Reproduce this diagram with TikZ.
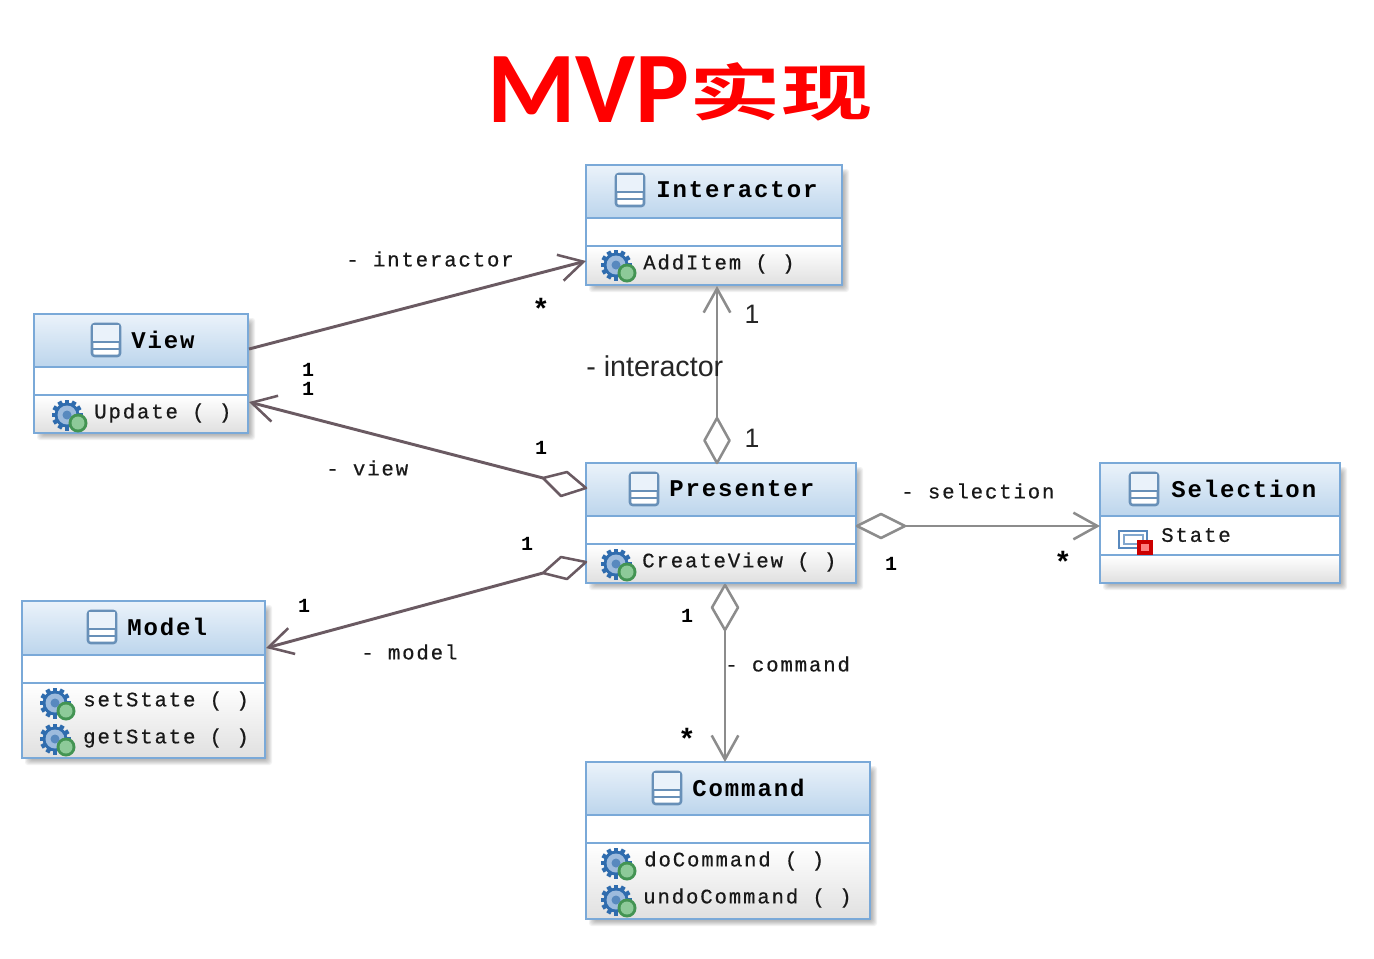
\documentclass[tikz,border=0pt]{standalone}
\usepackage{fontspec}
\usetikzlibrary{arrows.meta}
\newfontfamily\umlfont[LetterSpace=9,FakeBold=0.5]{Liberation Mono}
\newfontfamily\headfont[LetterSpace=8]{Liberation Mono Bold}
\newfontfamily\multfont{Liberation Mono Bold}
\newfontfamily\titlefont{Carlito Bold}
\newfontfamily\cjkfont[FakeStretch=1.49]{Noto Sans CJK SC Bold}
\newfontfamily\sansfontb{Liberation Sans}
\definecolor{umlblue}{HTML}{7AA9D8}
\definecolor{headtop}{HTML}{EAF2FA}
\definecolor{headbot}{HTML}{BCD5EC}
\definecolor{darkline}{HTML}{6A5A62}
\definecolor{grayline}{HTML}{8C8C8C}
\definecolor{gearblue}{HTML}{2F6CAE}
\definecolor{gearin}{HTML}{9DBBDD}
\definecolor{geargreen}{HTML}{4FAE62}
\tikzset{
  classbox/.style={draw=umlblue,line width=2.2pt,fill=white,inner sep=0pt,outer sep=0pt},
  divider/.style={draw=umlblue,line width=1.8pt},
  headtext/.style={font=\headfont\fontsize{18}{18}\selectfont,text=black,inner sep=0pt},
  membertext/.style={font=\umlfont\fontsize{15.5}{16}\selectfont,text=black!90,inner sep=0pt,anchor=west},
  roletext/.style={font=\umlfont\fontsize{15.5}{16}\selectfont,text=black!90,inner sep=0pt},
  multtext/.style={font=\multfont\fontsize{15}{15}\selectfont,text=black,inner sep=0pt},
  startext/.style={font=\multfont\fontsize{22}{22}\selectfont,text=black,inner sep=0pt},
  bigtext/.style={font=\sansfontb\fontsize{20}{20}\selectfont,text=black!85,inner sep=0pt},
  darkconn/.style={draw=darkline,line width=2.2pt},
  grayconn/.style={draw=grayline,line width=2.2pt},
  opentip/.style={-{Straight Barb[length=18pt,width=20pt,line width=1.9pt]}},
  diam/.style={draw=#1,fill=white,line width=1.9pt,line join=round},
}
\newcommand{\umlclass}[7]{%
  \foreach \s in {0,1,2,3,4,5}
    \fill[black,opacity=0.05,rounded corners=2pt] (#2+3+\s,#3+4+\s) rectangle (#4+7-\s,#5+7-\s);
  \node[classbox,minimum width={(#4-#2)*0.75pt},minimum height={(#5-#3)*0.75pt},anchor=north west] (#1) at (#2,#3) {};
  \fill[top color=headtop,bottom color=headbot] (#2+1,#3+1) rectangle (#4-1,#6);
  \fill[top color=white,middle color=white,bottom color=black!12] (#2+1,#7+1) rectangle (#4-1,#5-1);
  \draw[divider] (#2,#6) -- (#4,#6);
  \draw[divider] (#2,#7) -- (#4,#7);
  \draw[umlblue,line width=2.2pt] (#2,#3) rectangle (#4,#5);
}
\newcommand{\classicon}[2]{%
  \begin{scope}[shift={(#1,#2)}]
    \draw[umlblue!85!black,line width=1.9pt,rounded corners=2pt,fill=white] (-14,-16) rectangle (14,16);
    \fill[headtop] (-13,-15) rectangle (13,1);
    \draw[umlblue!85!black,line width=1.5pt] (-14,2) -- (14,2) (-14,9) -- (14,9);
  \end{scope}}
\newcommand{\gearicon}[2]{%
  \begin{scope}[shift={(#1+1,#2+1)}]
    \foreach \a in {0,30,...,150}
      \fill[gearblue,rotate=\a] (-2.2,-15.5) rectangle (2.2,15.5);
    \fill[gearblue] (0,0) circle (12.5);
    \fill[gearin] (0,0) circle (9.5);
    \fill[gearblue!80] (0,0) circle (4.5);
    \fill[geargreen!85!black] (11,8) circle (9.5);
    \fill[geargreen!65!white] (11,8) circle (6.5);
  \end{scope}}
\begin{document}
\begin{tikzpicture}[x=0.75pt,y=-0.75pt]
\useasboundingbox (0,0) rectangle (1374,958);
\fill[white] (0,0) rectangle (1374,958);
% title
\node[inner sep=0pt,anchor=base west,text=red] (title) at (487,122)
  {\titlefont\fontsize{76}{76}\selectfont MVP\raisebox{5pt}{\cjkfont\fontsize{46}{46}\selectfont 实现}};
% classes
\umlclass{interactor}{586}{165}{842}{285}{218}{246}
\umlclass{viewc}{34}{314}{248}{433}{367}{395}
\umlclass{presenter}{586}{463}{856}{583}{516}{544}
\umlclass{selectionc}{1100}{463}{1340}{583}{516}{555}
\umlclass{modelc}{22}{601}{265}{758}{655}{683}
\umlclass{commandc}{586}{762}{870}{919}{815}{843}
% class icons and names
\classicon{630}{190}\node[headtext,anchor=west] (t1) at (656,190) {Interactor};
\classicon{106}{340}\node[headtext,anchor=west] (t2) at (131,340) {View};
\classicon{644}{489}\node[headtext,anchor=west] (t3) at (669,489) {Presenter};
\classicon{1144}{489}\node[headtext,anchor=west] (t4) at (1171,489) {Selection};
\classicon{102}{627}\node[headtext,anchor=west] (t5) at (127,627) {Model};
\classicon{667}{788}\node[headtext,anchor=west] (t6) at (692,788) {Command};
% members
\gearicon{615}{264}\node[membertext] (m1) at (643,264) {AddItem ( )};
\gearicon{66}{414}\node[membertext] (m2) at (94,413) {Update ( )};
\gearicon{615}{563}\node[membertext] (m3) at (642,562) {CreateView ( )};
\gearicon{54}{702}\node[membertext] (m4) at (83,701) {setState ( )};
\gearicon{54}{738}\node[membertext] (m5) at (83,738) {getState ( )};
\gearicon{615}{862}\node[membertext] (m6) at (644,861) {doCommand ( )};
\gearicon{615}{899}\node[membertext] (m7) at (643,898) {undoCommand ( )};
% field icon
\begin{scope}[shift={(1134,540)}]
  \draw[gearblue!80,line width=1.6pt,fill=white] (-15,-9) rectangle (13,8);
  \draw[gearblue!60,line width=1.2pt] (-10,-5) rectangle (9,4);
  \fill[red!80!black] (3,0) rectangle (19,15);
  \fill[red!50] (7,4) rectangle (15,11);
\end{scope}
\node[membertext] (m8) at (1161,535) {State};
% coordinates
\coordinate (vi) at (249,349);
\coordinate (iv) at (586,261);
\coordinate (ip) at (717,463);
\coordinate (pv) at (586,488);
\coordinate (pvl) at (543,478);
\coordinate (vp) at (249,402);
\coordinate (pm) at (586,562);
\coordinate (pml) at (543,573);
\coordinate (mp) at (266,648);
\coordinate (ps) at (857,526);
\coordinate (sp) at (1100,526);
\coordinate (pc) at (725,585);
\coordinate (cp) at (725,762);
\coordinate (pi) at (717,286);
% connectors
\draw[darkconn,opentip] (vi) -- (iv);
\draw[grayconn,opentip] (ip) -- (pi);
\draw[darkconn,opentip] (pvl) -- (vp);
\draw[darkconn,opentip] (pml) -- (mp);
\draw[grayconn,opentip] (ps) -- (sp);
\draw[grayconn,opentip] (pc) -- (cp);
% diamonds
\draw[diam=grayline] (ip) -- ++(-12.5,-22.5) -- ++(12.5,-22.5) -- ++(12.5,22.5) -- cycle;
\draw[diam=darkline] (pv) -- (567,472) -- (pvl) -- (561,496) -- cycle;
\draw[diam=darkline] (pm) -- (561,557) -- (pml) -- (567,579) -- cycle;
\draw[diam=grayline] (ps) -- ++(24,-12) -- ++(24,12) -- ++(-24,12) -- cycle;
\draw[diam=grayline] (pc) -- ++(-13,22.5) -- ++(13,22.5) -- ++(13,-22.5) -- cycle;
% labels
\node[roletext,anchor=west] (l1) at (346,259) {- interactor};
\node[startext] (l2) at (541,309) {*};
\node[bigtext] (l3) at (752,314) {1};
\node[bigtext] (l4) at (752,438) {1};
\node[bigtext,anchor=west,font=\sansfontb\fontsize{21.5}{22}\selectfont] (l5) at (586,366) {- interactor};
\node[multtext] (l6) at (308,370) {1};
\node[multtext] (l7) at (308,389) {1};
\node[multtext] (l8) at (541,448) {1};
\node[roletext,anchor=west] (l9) at (326,468) {- view};
\node[roletext,anchor=west] (l10) at (901,491) {- selection};
\node[multtext] (l11) at (891,564) {1};
\node[startext] (l12) at (1063,562) {*};
\node[multtext] (l13) at (527,544) {1};
\node[multtext] (l14) at (304,606) {1};
\node[roletext,anchor=west] (l15) at (361,652) {- model};
\node[multtext] (l16) at (687,616) {1};
\node[roletext,anchor=west] (l17) at (725,664) {- command};
\node[startext] (l18) at (687,739) {*};
\end{tikzpicture}
\end{document}
